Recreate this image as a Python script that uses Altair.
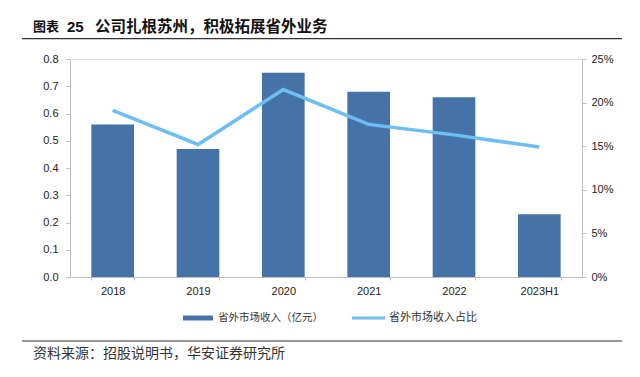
import altair as alt
import pandas as pd

categories = ["2018", "2019", "2020", "2021", "2022", "2023H1"]
revenue = [0.56, 0.47, 0.75, 0.68, 0.66, 0.23]          # 省外市场收入（亿元）
share = [0.191, 0.152, 0.215, 0.175, 0.163, 0.149]     # 省外市场收入占比

bar_name = "省外市场收入（亿元）"
line_name = "省外市场收入占比"
title_label = "图表"
title_num = "25"
title_text = "公司扎根苏州，积极拓展省外业务"
source_text = "资料来源：招股说明书，华安证券研究所"

BAR_COLOR = "#4572A7"
LINE_COLOR = "#6CBFF0"
AXIS_COLOR = "#BFBFBF"
FONT = "Liberation Sans"
CJK = "Noto Sans CJK SC"

df = pd.DataFrame({"cat": categories, "rev": revenue, "share": share})
one = pd.DataFrame({"k": [0]})

x_enc = alt.X(
    "cat:N", sort=categories, title=None,
    scale=alt.Scale(paddingInner=0.5, paddingOuter=0.25),
    axis=alt.Axis(labelAngle=0, labelFont=FONT, labelFontSize=11, labelColor="#222",
                  domainColor=AXIS_COLOR, tickColor=AXIS_COLOR, tickSize=3,
                  tickBand="extent", labelPadding=5, grid=False),
)

bars = alt.Chart(df).mark_bar(color=BAR_COLOR).encode(
    x=x_enc,
    y=alt.Y("rev:Q", title=None,
            scale=alt.Scale(domain=[0, 0.8], nice=False),
            axis=alt.Axis(values=[0, 0.1, 0.2, 0.3, 0.4, 0.5, 0.6, 0.7, 0.8], format=".1f",
                          labelFont=FONT, labelFontSize=11, labelColor="#222",
                          domainColor=AXIS_COLOR, tickColor=AXIS_COLOR, tickSize=4,
                          labelPadding=8, grid=False)),
)

line = alt.Chart(df).mark_line(color=LINE_COLOR, strokeWidth=3.5).encode(
    x=alt.X("cat:N", sort=categories),
    y=alt.Y("share:Q", title=None,
            scale=alt.Scale(domain=[0, 0.25], nice=False),
            axis=alt.Axis(orient="right", values=[0, 0.05, 0.1, 0.15, 0.2, 0.25], format=".0%",
                          labelFont=FONT, labelFontSize=11, labelColor="#222",
                          domainColor=AXIS_COLOR, tickColor=AXIS_COLOR, tickSize=4,
                          labelPadding=5, grid=False)),
)

base = alt.Chart(one)

title_a = base.mark_text(text=title_label, font=CJK, fontSize=13, fontWeight="bold",
                         align="left", baseline="middle", color="#111").encode(
    x=alt.value(-37), y=alt.value(-32))
title_b = base.mark_text(text=title_num, font=FONT, fontSize=15, fontWeight="bold",
                         align="left", baseline="middle", color="#111").encode(
    x=alt.value(-3), y=alt.value(-32))
title_c = base.mark_text(text=title_text, font=CJK, fontSize=15.5, fontWeight="bold",
                         align="left", baseline="middle", color="#111").encode(
    x=alt.value(25), y=alt.value(-32))
title_rule = base.mark_rule(color="#333", strokeWidth=1.2).encode(
    x=alt.value(-48), x2=alt.value(552), y=alt.value(-20.3))
source_rule = base.mark_rule(color="#333", strokeWidth=1.2).encode(
    x=alt.value(-48), x2=alt.value(552), y=alt.value(282))
source = base.mark_text(text=source_text, font=CJK, fontSize=14,
                        align="left", baseline="middle", color="#333").encode(
    x=alt.value(-37), y=alt.value(294.5))

leg_bar = base.mark_rule(color=BAR_COLOR, strokeWidth=5).encode(
    x=alt.value(113), x2=alt.value(143), y=alt.value(259))
leg_bar_t = base.mark_text(text=bar_name, font=CJK, fontSize=10.5, align="left",
                           baseline="middle", color="#333").encode(
    x=alt.value(148), y=alt.value(259))
leg_line = base.mark_rule(color=LINE_COLOR, strokeWidth=3).encode(
    x=alt.value(282), x2=alt.value(315), y=alt.value(259))
leg_line_t = base.mark_text(text=line_name, font=CJK, fontSize=11, align="left",
                            baseline="middle", color="#333").encode(
    x=alt.value(319), y=alt.value(259))

main = alt.layer(bars, line).resolve_scale(y="independent")

chart = alt.layer(
    main, title_a, title_b, title_c, title_rule, source_rule, source,
    leg_bar, leg_bar_t, leg_line, leg_line_t
).properties(
    width=512, height=218,
    autosize=alt.AutoSizeParams(type="none"),
    padding={"left": 62, "top": 51, "right": 50, "bottom": 92},
).configure_view(stroke=None).configure(background="white")

chart.save("out.html", embed_options={"renderer": "svg", "actions": False})
